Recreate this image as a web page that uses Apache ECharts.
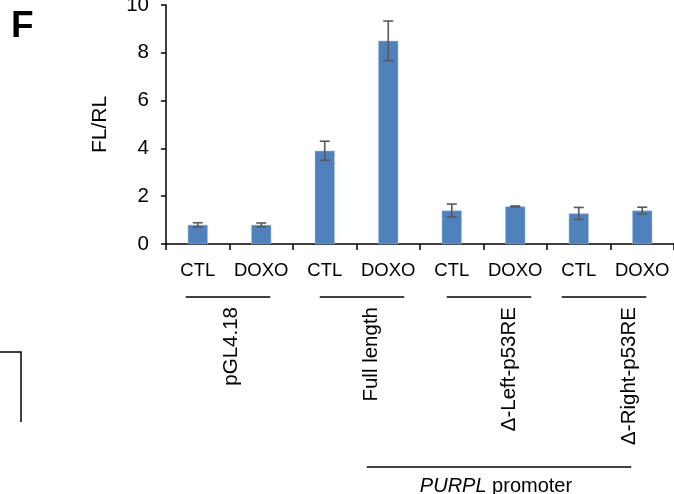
<!DOCTYPE html>
<html><head><meta charset="utf-8">
<script src="https://cdn.jsdelivr.net/npm/echarts@6/dist/echarts.min.js"></script>
<style>html,body{margin:0;padding:0;background:#fff}#c{width:674px;height:494px}</style>
</head><body><div id="c"></div>
<script>
var categories = ['CTL','DOXO','CTL','DOXO','CTL','DOXO','CTL','DOXO'];
var values = [0.8, 0.8, 3.9, 8.5, 1.4, 1.57, 1.28, 1.4];
var errors = [0.09, 0.08, 0.4, 0.83, 0.27, 0.02, 0.25, 0.14];
var yTicks = [0, 2, 4, 6, 8, 10];
var groupNames = ['pGL4.18', 'Full length', '\u0394-Left-p53RE', '\u0394-Right-p53RE'];
var groupSpans = [[0,1],[2,3],[4,5],[6,7]];
var superGroupSpan = [2,7];

var FONT = 'Liberation Sans, Arial, sans-serif';
var chart = echarts.init(document.getElementById('c'));
var option = {
  animation: false,
  grid: {left: 166, right: 0, top: 5, height: 239, outerBoundsMode: 'none', containLabel: false},
  xAxis: {
    type: 'category', data: categories,
    axisLine: {lineStyle: {color: '#000', width: 1.5}},
    axisTick: {show: true, length: 6, lineStyle: {color: '#000', width: 1.5}},
    axisLabel: {color: '#000', fontSize: 18.5, fontFamily: FONT, margin: 17, interval: 0, hideOverlap: false}
  },
  yAxis: {
    type: 'value', min: yTicks[0], max: yTicks[yTicks.length-1], interval: 2,
    name: 'FL/RL', nameLocation: 'middle', nameRotate: 90, nameGap: 55,
    nameTextStyle: {color: '#000', fontSize: 21, fontFamily: FONT},
    splitLine: {show: false},
    axisLine: {show: true, lineStyle: {color: '#000', width: 1.5}},
    axisTick: {show: true, length: 5, lineStyle: {color: '#000', width: 1.5}},
    axisLabel: {color: '#000', fontSize: 20.5, fontFamily: FONT, margin: 17}
  },
  series: [{
    type: 'bar', data: values, barWidth: 20,
    itemStyle: {color: '#4F81BD', borderColor: '#A9BEDC', borderWidth: 0.5}
  }, {
    type: 'custom', z: 10,
    data: values.map(function(v,i){return [i, v - errors[i], v + errors[i]];}),
    renderItem: function(params, api) {
      var lo = api.coord([api.value(0), api.value(1)]);
      var hi = api.coord([api.value(0), api.value(2)]);
      var w = 5;
      var st = {stroke: '#595959', lineWidth: 1.6};
      return {type: 'group', children: [
        {type: 'line', shape: {x1: lo[0], y1: lo[1], x2: hi[0], y2: hi[1]}, style: st},
        {type: 'line', shape: {x1: lo[0]-w, y1: lo[1], x2: lo[0]+w, y2: lo[1]}, style: st},
        {type: 'line', shape: {x1: hi[0]-w, y1: hi[1], x2: hi[0]+w, y2: hi[1]}, style: st}
      ]};
    }
  }]
};
chart.setOption(option);

function cx(i){ return chart.convertToPixel({xAxisIndex: 0}, i); }
var lineOff = [[-12, 9], [-5, 16], [-5, 16], [-17, 4]];
var labelOff = [2, 15, 26, 19];
var g = [];
g.push({type:'text', left: 11, top: 8, style:{text:'F', font:'bold 37px '+FONT, fill:'#000'}});
g.push({type:'polyline', shape:{points:[[0,352],[21,352],[21,422]]}, style:{stroke:'#000', lineWidth:1.5, fill:null}});
groupSpans.forEach(function(s, k){
  var a = cx(s[0]), b = cx(s[1]);
  g.push({type:'line', shape:{x1:a+lineOff[k][0], y1:297, x2:b+lineOff[k][1], y2:297}, style:{stroke:'#000', lineWidth:1.5}});
  g.push({type:'text', x:(a+b)/2+labelOff[k], y:307, rotation: Math.PI/2,
    style:{text:groupNames[k], font:'20.5px '+FONT, fill:'#000', align:'right', verticalAlign:'middle'}});
});
var sa = cx(superGroupSpan[0]), sb = cx(superGroupSpan[1]);
g.push({type:'line', shape:{x1:sa+42, y1:467, x2:sb-11, y2:467}, style:{stroke:'#000', lineWidth:1.5}});
g.push({type:'text', x:496, y:486, style:{rich:{i:{font:'italic 20px '+FONT, fill:'#000'}, n:{font:'20px '+FONT, fill:'#000'}}, text:'{i|PURPL}{n| promoter}', align:'center', verticalAlign:'middle'}});
chart.setOption({graphic: g});
</script></body></html>
